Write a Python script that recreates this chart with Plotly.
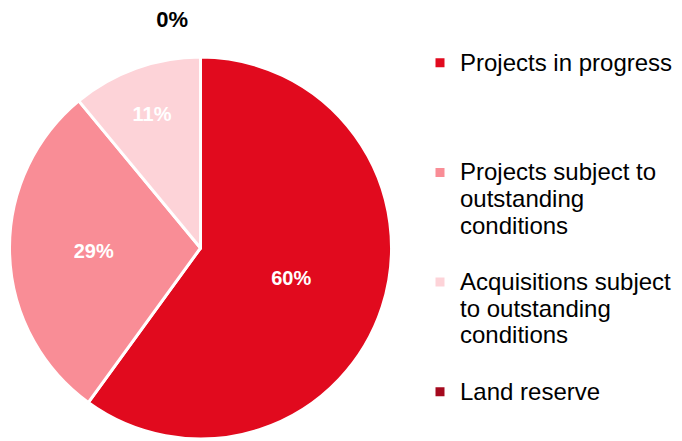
import plotly.graph_objects as go

labels = [
    "Projects in progress",
    "Projects subject to<br>outstanding<br>conditions",
    "Acquisitions subject<br>to outstanding<br>conditions",
    "Land reserve",
]
values = [60, 29, 11, 0]
colors = ["#E10A1E", "#F98D96", "#FDD3D8", "#A50A1E"]

FONT = "Liberation Sans, Arial, sans-serif"


def legend_text(lab, pad):
    lines = lab.split("<br>")
    body = "<br>".join(f"<span style='font-size:24px'>{ln}</span>" for ln in lines)
    return body + "<br> " * pad


# pad legend entries (except the last) to 4 lines so entries are evenly spaced
legend_labels = []
for i, lab in enumerate(labels):
    n = lab.count("<br>") + 1
    pad = 0 if i == len(labels) - 1 else 4 - n
    legend_labels.append(legend_text(lab, pad))

templates = [
    "<b>%{percent:.0%}</b>" if v > 0
    else "<b>%{percent:.0%}</b><br><span style='font-size:6px;color:white'>.</span>"
    for v in values
]
positions = ["inside" if v > 0 else "outside" for v in values]

W, H = 682, 441
OFF = 8  # page body margin offset

fig = go.Figure(
    go.Pie(
        labels=legend_labels,
        values=values,
        sort=False,
        direction="clockwise",
        rotation=0,
        marker=dict(colors=colors, line=dict(color="white", width=3)),
        texttemplate=templates,
        textposition=positions,
        insidetextfont=dict(color="white", size=20, family=FONT),
        outsidetextfont=dict(color="black", size=22, family=FONT),
        insidetextorientation="horizontal",
        domain=dict(
            x=[(8 - OFF) / W, (393 - OFF) / W],
            y=[(H - 439 + OFF) / H, (H - 57 + OFF) / H],
        ),
        hoverinfo="percent",
    )
)

fig.update_layout(
    width=W,
    height=H,
    margin=dict(l=0, r=0, t=0, b=0, autoexpand=False),
    paper_bgcolor="white",
    plot_bgcolor="white",
    font=dict(family=FONT, size=20.5, color="black"),
    showlegend=True,
    legend=dict(
        x=412 / W,
        y=1 - 35 / H,
        xanchor="left",
        yanchor="top",
        valign="top",
        font=dict(size=20.5, family=FONT, color="black"),
        bgcolor="rgba(0,0,0,0)",
    ),
)

fig.write_html("out.html")
